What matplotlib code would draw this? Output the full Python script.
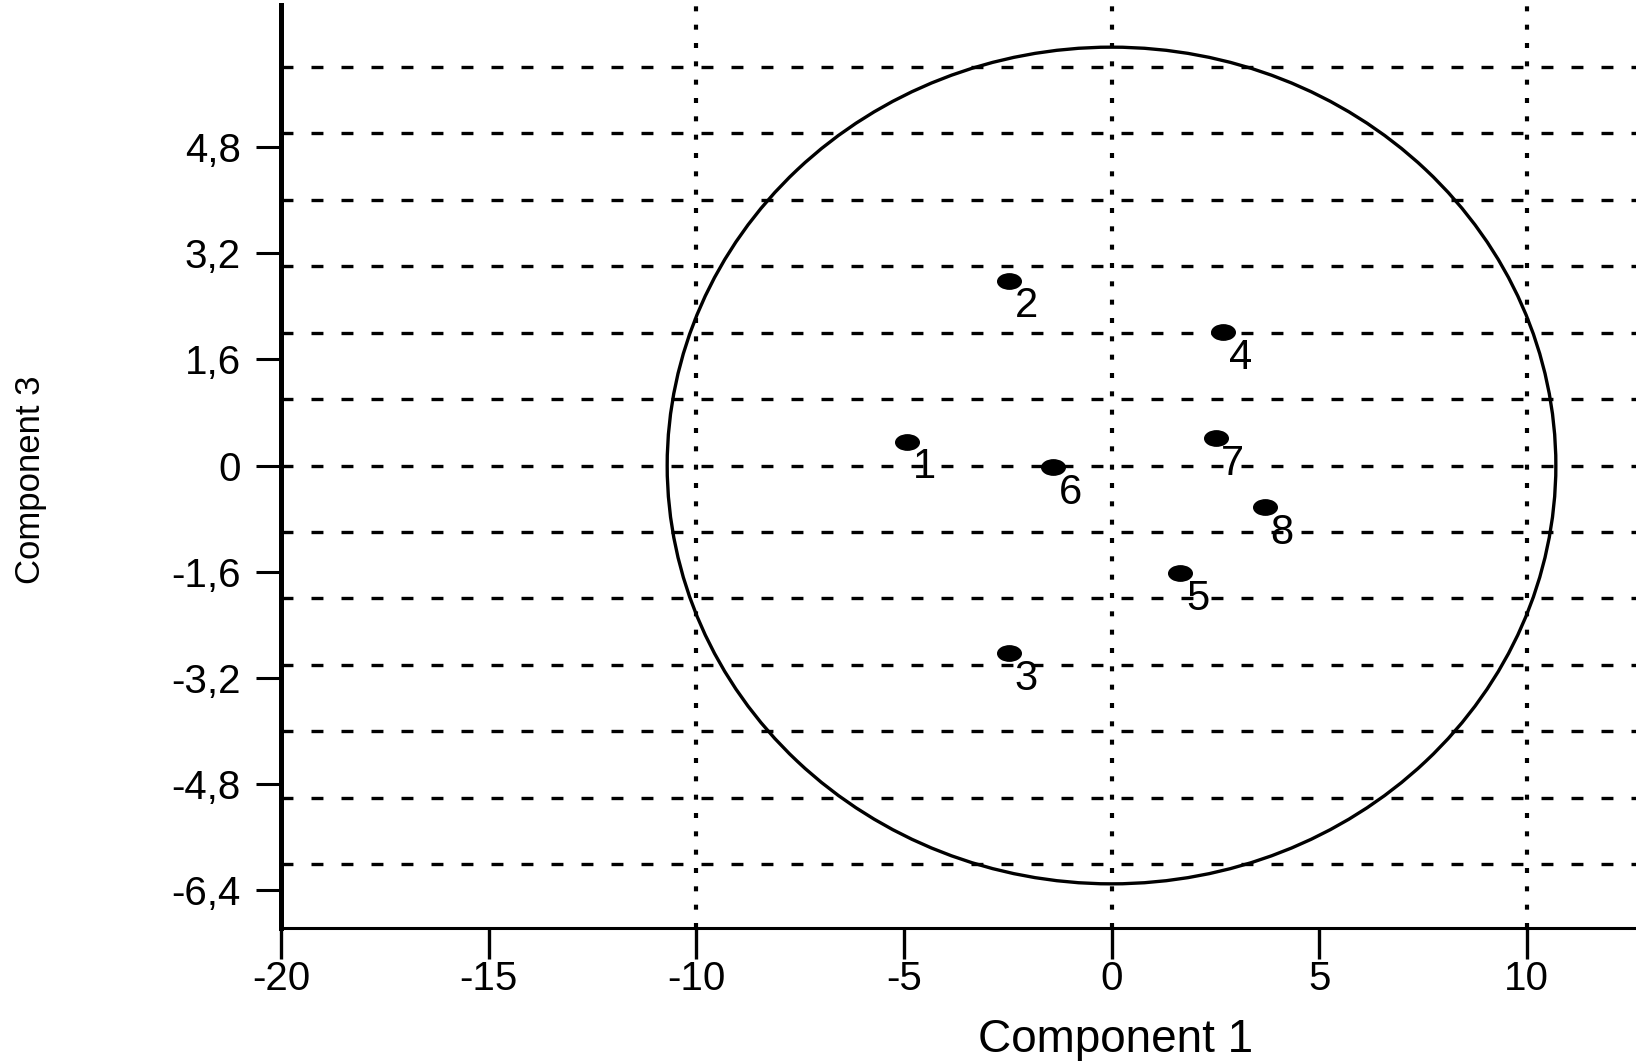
import matplotlib
matplotlib.use("Agg")
import matplotlib.pyplot as plt
from matplotlib.patches import Ellipse
from matplotlib.path import Path
import numpy as np

plt.rcParams['font.family'] = ['Liberation Sans', 'DejaVu Sans']
plt.rcParams['lines.scale_dashes'] = False

# data
labels = ['1', '2', '3', '4', '5', '6', '7', '8']
comp1 = [-4.92, -2.46, -2.46, 2.69, 1.66, -1.41, 2.51, 3.69]
comp3 = [0.36, 2.78, -2.83, 2.01, -1.62, -0.03, 0.41, -0.63]

xticks = [-20, -15, -10, -5, 0, 5, 10]
xticklabels = ['-20', '-15', '-10', '-5', '0', '5', '10']
yticks = [4.8, 3.2, 1.6, 0, -1.6, -3.2, -4.8, -6.4]
yticklabels = ['4,8', '3,2', '1,6', '0', '-1,6', '-3,2', '-4,8', '-6,4']
hgrid = [-6, -5, -4, -3, -2, -1, 0, 1, 2, 3, 4, 5, 6]
vgrid = [-10, 0, 10]
ellipse_w, ellipse_h = 21.4, 12.6

fig = plt.figure(figsize=(16.36, 10.61), dpi=100)
ax = fig.add_axes([281 / 1636, 133 / 1061, 1 - 281 / 1636, 923 / 1061])
ax.set_xlim(-20, 12.63)
ax.set_ylim(-6.965, 6.935)

for y in hgrid:
    ax.axhline(y, color='black', lw=2.4, linestyle=(0, (8.6, 13)), zorder=1)
for x in vgrid:
    ax.axvline(x, color='black', lw=3.0, linestyle=(0, (3.6, 9.6)), zorder=1)

ax.add_patch(Ellipse((0, 0), ellipse_w, ellipse_h, fill=False,
                     edgecolor='black', lw=2.4, zorder=2))

# oval marker, wider than tall
circ = Path.unit_circle()
oval = Path(circ.vertices * np.array([1.0, 0.65]), circ.codes)
ax.plot(comp1, comp3, linestyle='none', marker=oval, markersize=17,
        color='black', zorder=3)
for lab, x, y in zip(labels, comp1, comp3):
    ax.annotate(lab, (x, y), xytext=(4, -4), textcoords='offset points',
                ha='left', va='top', fontsize=30, zorder=4)

ax.spines['top'].set_visible(False)
ax.spines['right'].set_visible(False)
ax.spines['left'].set_linewidth(3.6)
ax.spines['bottom'].set_linewidth(2.2)

ax.set_xticks(xticks)
ax.set_xticklabels(xticklabels, fontsize=29)
ax.set_yticks(yticks)
ax.set_yticklabels(yticklabels, fontsize=29)
ax.tick_params(axis='y', length=18, width=2.2, pad=11)
ax.tick_params(axis='x', length=22, width=2.4, pad=1)

fig.text(1116 / 1636, 1 - 1040 / 1061, 'Component 1', fontsize=33,
         ha='center', va='center')
fig.text(31 / 1636, 1 - 480 / 1061, 'Component 3', fontsize=25,
         ha='center', va='center', rotation=90)

fig.savefig('out.png', dpi=100)
